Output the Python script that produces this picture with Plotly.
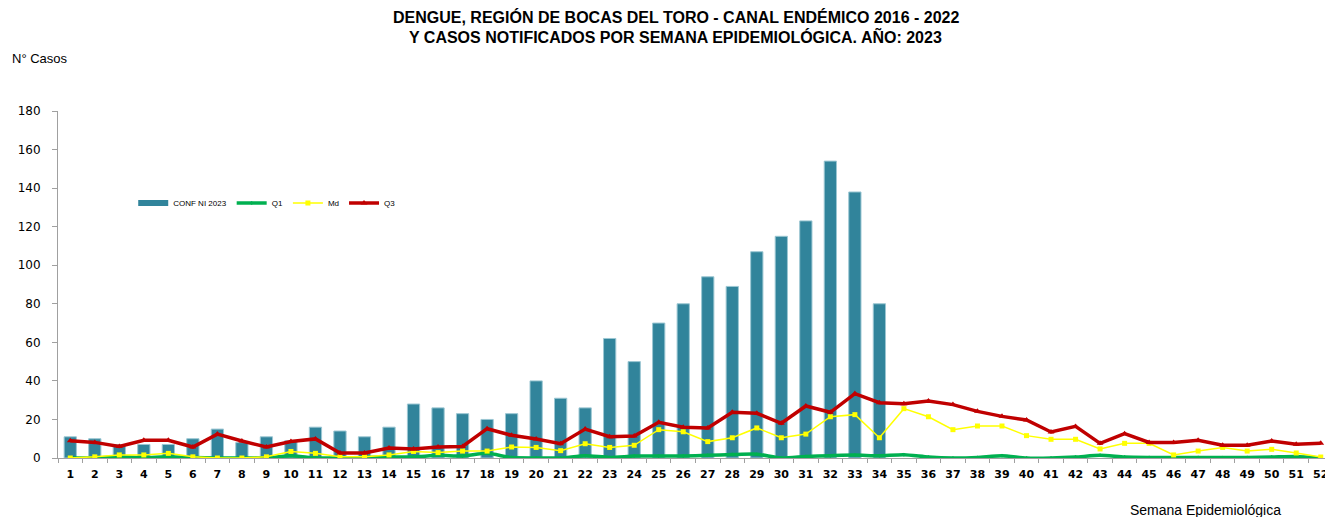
import plotly.graph_objects as go

weeks = [str(i) for i in range(1, 53)]

conf_2023 = [11, 10, 7, 7, 7, 10, 15, 8, 11, 9, 16, 14, 11, 16, 28, 26, 23, 20, 23, 40,
             31, 26, 62, 50, 70, 80, 94, 89, 107, 115, 123, 154, 138, 80]

q1 = [0, 0, 0.7, 0.2, 0.7, 0.2, 0, 0, 0, 1.2, 0, 0, 0.2, 0.5, 0.5, 1.4, 1, 2.4, 0.2, 0,
      0, 1.2, 0.3, 1, 1, 1, 1.4, 1.8, 2, 0, 0.8, 1.2, 1.5, 1.2, 1.7, 0.5, 0, 0.3, 1.2, 0,
      0, 0.5, 1.4, 0.5, 0.3, 0.3, 0.3, 0.2, 0.3, 0.5, 0.8, 0]

md = [0, 0.6, 1.6, 1.6, 2.4, 0.6, 0, 0, 0.6, 3.4, 2.4, 0.7, 0.7, 1.6, 3.4, 2.8, 3.6, 3.6, 5.7, 5.5,
      3.8, 7.4, 5.5, 6.6, 14.7, 13.6, 8.5, 10.5, 15.6, 10.5, 12.4, 21.4, 22.5, 10.5, 25.6, 21.4, 14.7, 16.6, 16.6, 11.6,
      9.7, 9.7, 4.7, 7.6, 7.6, 1.6, 3.6, 5.5, 3.6, 4.5, 2.6, 0.5]

q3 = [9, 8.1, 6, 9.2, 9.2, 5.7, 12.4, 8.8, 5.7, 8.6, 9.9, 2.6, 2.6, 5.2, 4.7, 5.7, 6, 15.2, 11.8, 9.9,
      7.4, 15, 11, 11.4, 18.5, 16, 15.6, 23.7, 23.2, 18, 27, 23.7, 33.4, 28.7, 28.2, 29.6, 27.7, 24.2, 21.6, 19.7,
      13.5, 16.4, 7.6, 12.6, 8.1, 8.1, 9.2, 6.6, 6.6, 8.8, 7.1, 7.6]

y_ticks = [0, 20, 40, 60, 80, 100, 120, 140, 160, 180]

title_line1 = "DENGUE, REGIÓN DE BOCAS DEL TORO - CANAL ENDÉMICO 2016 - 2022"
title_line2 = "Y CASOS NOTIFICADOS POR SEMANA EPIDEMIOLÓGICA. AÑO: 2023"

BAR_COLOR = "#31849B"

fig = go.Figure()
fig.add_trace(go.Bar(
    x=weeks[:len(conf_2023)], y=conf_2023, name="CONF NI 2023", showlegend=False,
    legendgroup="conf",
    marker=dict(color=BAR_COLOR, line=dict(color="#9CC7D3", width=1)),
))
# legend entry for the bars, drawn as a wide rectangle like the original
fig.add_trace(go.Scatter(
    x=[None], y=[None], name="CONF NI 2023", mode="lines", legendgroup="conf",
    line=dict(color=BAR_COLOR, width=6),
))
fig.add_trace(go.Scatter(
    x=weeks, y=q1, name="Q1", mode="lines+markers",
    line=dict(color="#00B050", width=3.5, shape="spline", smoothing=0.6),
    marker=dict(symbol="diamond", size=3, color="#00B050"),
))
fig.add_trace(go.Scatter(
    x=weeks, y=md, name="Md", mode="lines+markers",
    line=dict(color="#FFFF00", width=1.5),
    marker=dict(symbol="square", size=5, color="#FFFF00"),
))
fig.add_trace(go.Scatter(
    x=weeks, y=q3, name="Q3", mode="lines+markers",
    line=dict(color="#C00000", width=3.5),
    marker=dict(symbol="triangle-up", size=6, color="#C00000"),
))

# page has an 8px body margin; figure is sized so it ends at the window edge
fig.update_layout(
    width=1325, height=509,
    margin=dict(l=50, r=0, t=103, b=59, autoexpand=False),
    plot_bgcolor="white", paper_bgcolor="white",
    bargap=0.5,
    font=dict(family="Liberation Sans, Arial, sans-serif", color="#000000"),
    legend=dict(
        orientation="h", x=0.059, y=0.735, xanchor="left", yanchor="middle",
        font=dict(size=8), bgcolor="rgba(0,0,0,0)",
        itemwidth=30, tracegroupgap=0,
    ),
    xaxis=dict(
        type="category", range=[-0.5, 51.5], showgrid=False, showline=True,
        linecolor="#A0A0A0", linewidth=1,
        ticks="outside", tickson="boundaries", ticklen=4, tickcolor="#A0A0A0",
        tickangle=0, automargin=False, ticklabelstandoff=6,
        tickfont=dict(size=11, family="DejaVu Sans, Verdana"), tickprefix="<b>", ticksuffix="</b>",
    ),
    yaxis=dict(
        range=[0, 180], tickvals=y_ticks, showgrid=False, zeroline=False,
        showline=True, linecolor="#A0A0A0", linewidth=1,
        ticks="outside", ticklen=5, tickcolor="#A0A0A0", automargin=False,
        ticklabelstandoff=9,
        tickfont=dict(size=12, family="DejaVu Sans, Verdana"), tickprefix="<b>", ticksuffix="</b>",
    ),
    annotations=[
        dict(text="<b>" + title_line1 + "</b>", xref="paper", yref="paper", x=0.4847, y=1.2723,
             xanchor="center", yanchor="middle", showarrow=False,
             font=dict(size=16, family="Liberation Sans, Arial")),
        dict(text="<b>" + title_line2 + "</b>", xref="paper", yref="paper", x=0.4847, y=1.2147,
             xanchor="center", yanchor="middle", showarrow=False,
             font=dict(size=16, family="Liberation Sans, Arial")),
        dict(text="N° Casos", xref="paper", yref="paper", x=-0.0376, y=1.1499,
             xanchor="left", yanchor="middle", showarrow=False,
             font=dict(size=13, family="Liberation Sans, Arial")),
        dict(text="Semana Epidemiológica", xref="paper", yref="paper", x=0.8392, y=-0.150,
             xanchor="left", yanchor="middle", showarrow=False,
             font=dict(size=14, family="Liberation Sans, Arial")),
    ],
)

fig.write_html("out.html")
